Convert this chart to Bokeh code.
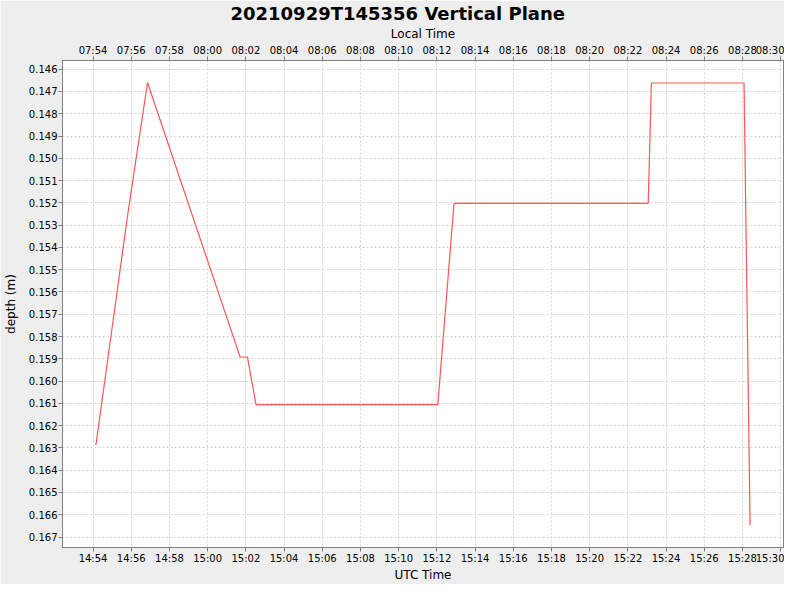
from datetime import datetime, timedelta

import pandas as pd
from bokeh.embed import file_html
from bokeh.models import (ColumnDataSource, DatetimeAxis, DatetimeTickFormatter,
                          PrintfTickFormatter, Range1d, SingleIntervalTicker)
from bokeh.plotting import figure
from bokeh.resources import INLINE

# ---------------- data ----------------
TITLE = "20210929T145356 Vertical Plane"
DATE = "2021-09-29"
utc_times = ["14:54:09", "14:55:48", "14:56:51", "15:01:42", "15:02:05", "15:02:32",
             "15:12:03", "15:12:54", "15:23:04", "15:23:14", "15:28:05", "15:28:24"]
depths = [0.16287, 0.15262, 0.14660, 0.15892, 0.15892, 0.16106,
          0.16106, 0.15202, 0.15202, 0.14662, 0.14662, 0.16647]
LOCAL_OFFSET_HOURS = -7
x_start = "14:52:24"
x_end = "15:30:09"
y_top = 0.14561
y_bottom = 0.16747
y_tick_step = 0.001
x_tick_minutes = 2

# ---------------- build ----------------
FONT = "DejaVu Sans"
t = pd.to_datetime([f"{DATE} {s}" for s in utc_times])
src = ColumnDataSource(dict(t=t, d=depths))

xs = datetime.fromisoformat(f"{DATE} {x_start}")
xe = datetime.fromisoformat(f"{DATE} {x_end}")
off = timedelta(hours=LOCAL_OFFSET_HOURS)

p = figure(width=784, height=584, x_axis_type="datetime",
           x_range=Range1d(xs, xe), y_range=Range1d(y_bottom, y_top),
           output_backend="svg", toolbar_location=None,
           min_border_left=62, min_border_right=1, min_border_top=10, min_border_bottom=20,
           title=TITLE)
p.extra_x_ranges = {"local": Range1d(xs + off, xe + off)}

p.background_fill_color = "white"
p.border_fill_color = "#EEEEEE"
p.outline_line_color = "#808080"
p.outline_line_width = 1

p.title.align = "left"
p.title.offset = 168
p.title.text_font = FONT
p.title.text_font_size = "18px"
p.title.text_font_style = "bold"
p.title.text_color = "black"
p.title.standoff = 0

fmt = DatetimeTickFormatter(seconds="%H:%M", minsec="%H:%M", minutes="%H:%M",
                            hourmin="%H:%M", hours="%H:%M", days="%H:%M",
                            context=None)
interval = x_tick_minutes * 60 * 1000

top = DatetimeAxis(x_range_name="local", axis_label="Local Time")
p.add_layout(top, "above")
bottom = p.below[0]
bottom.axis_label = "UTC Time"

for ax in [bottom, top]:
    ax.ticker = SingleIntervalTicker(interval=interval, num_minor_ticks=0)
    ax.formatter = fmt

yax = p.left[0]
yax.ticker = SingleIntervalTicker(interval=y_tick_step, num_minor_ticks=0)
yax.formatter = PrintfTickFormatter(format="%.3f")
yax.axis_label = "depth (m)"

for ax in [bottom, top, yax]:
    ax.axis_line_color = "#808080"
    ax.major_tick_line_color = "#808080"
    ax.major_tick_out = 4
    ax.major_tick_in = 0
    ax.minor_tick_line_color = None
    ax.major_label_text_font = FONT
    ax.major_label_text_font_size = "10px"
    ax.major_label_text_color = "black"
    ax.major_label_standoff = 1
    ax.axis_label_text_font = FONT
    ax.axis_label_text_font_size = "12px"
    ax.axis_label_text_font_style = "normal"
    ax.axis_label_text_color = "black"
    ax.axis_label_standoff = 1
yax.axis_label_standoff = 8

for g in [p.xgrid[0], p.ygrid[0]]:
    g.grid_line_color = "#D4D4D4"
    g.grid_line_dash = "2 2"
    g.grid_line_width = 1

p.line("t", "d", source=src, line_color="#FF5555", line_width=1.2)

open("out.html", "w").write(file_html(p, INLINE))
